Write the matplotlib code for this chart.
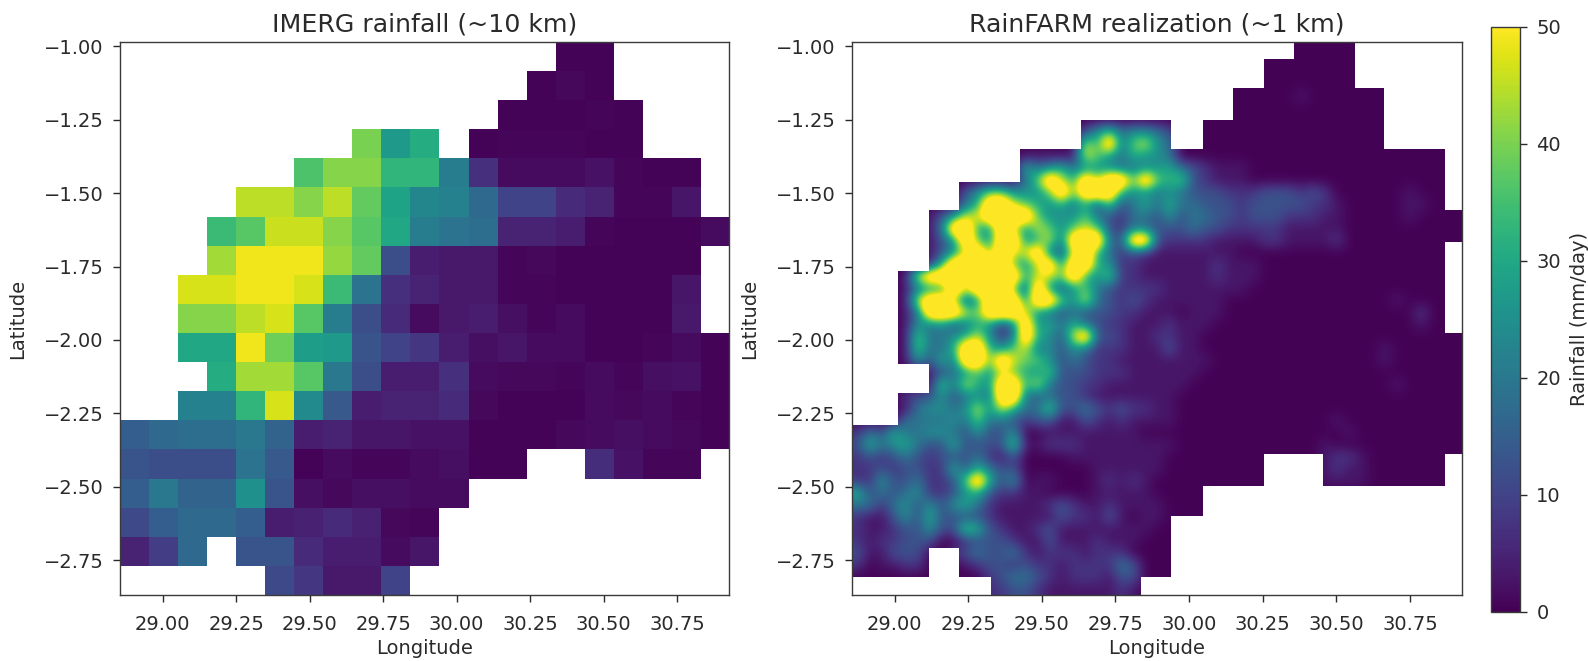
import matplotlib
matplotlib.use('Agg')
import matplotlib.pyplot as plt
import numpy as np

n = np.nan
# IMERG rainfall (mm/day) per ~10 km cell, north to south
imerg_rows = [
    [n,n,n,n,n,n,n,n,n,n,n,n,n,n,n,.5,.5,n,n,n,n],
    [n,n,n,n,n,n,n,n,n,n,n,n,n,n,.5,1,.5,n,n,n,n],
    [n,n,n,n,n,n,n,n,n,n,n,n,n,.5,.5,.5,.8,.5,n,n,n],
    [n,n,n,n,n,n,n,n,40,27,31,n,.5,.8,.8,.8,.5,.5,n,n,n],
    [n,n,n,n,n,n,36,41,41,33,33,21,7,1.5,1.5,1.5,2.5,.8,.5,.5,n],
    [n,n,n,n,45,45,41,45,38,29,23,22,17,10,10,6,5,.8,.8,3,n],
    [n,n,n,34,37,46,46,41,37,30,21,19,18,5,5,4,.8,.5,.5,.5,1.5],
    [n,n,n,43,49,49,49,42,38,12,4,3.5,3.5,.8,1,.5,.5,.5,.5,.5,n],
    [n,n,47,47,49,49,47,34,19,7,5,3.5,3.5,.8,.8,.5,.5,.5,.5,3,n],
    [n,n,41,41,45,47,37,21,12,6,1.5,3.5,4,2,.8,1.5,.5,.5,.5,3.5,n],
    [n,n,30,30,49,39,28,27,13,10,8,4,2,3,1.5,1.5,.5,.5,.8,1.5,.5],
    [n,n,n,31,43,43,37,20,12,4,4,7,1.5,1,1,.8,1.5,.8,2,2.5,.5],
    [n,n,22,22,33,47,24,14,4,5,5,6,1,.5,.5,.5,1.5,1,1.5,.8,.5],
    [15,17,18,18,20,16,4,5,3,3,2.5,2.5,.5,.5,.5,1,1.5,2,1.5,1,.5],
    [13,12,12,12,19,14,.5,1.5,.8,.8,1.5,2,.5,.5,n,n,6.5,2.5,.8,.8,n],
    [15,20,16,16,25,13,2,1,2,2,1.5,1.5,n,n,n,n,n,n,n,n,n],
    [11,15,17,17,15,4,4.5,6,4.5,1,.8,n,n,n,n,n,n,n,n,n,n],
    [5,9,17,n,13,13,6,4,4,1.5,3,n,n,n,n,n,n,n,n,n,n],
    [n,n,n,n,n,11,8,3.5,3.5,10,n,n,n,n,n,n,n,n,n,n,n],
]

rain_levels = [0.3, 3, 7.5, 12.5, 19, 25, 31, 38, 47, 72]
rainfarm_rows = [
    "0",
    "0",
    "0",
    "0",
    "0000000000000000000000000000000000000100000",
    "0",
    "0",
    "0000000000000000000" + "35745543",
    "0000000000000000000" + "86947854",
    "00000000000000" + "11111" + "87546554",
    "00000000000000" + "6456455544556" + "432111",
    "00000000000000" + "4798698997976" + "732111",
    "000000000" + "357755579799965545" + "4333222333232" + "0000001",
    "000000000" + "469987656463734646" + "443332333332210000011",
    "000000" + "135889999755574324435" + "344332333222110000010",
    "000000" + "149965985875787324433" + "34332222211111",
    "000000" + "135975995684999439932" + "22211112211112",
    "000000" + "135897988943896423211" + "11111",
    "000000" + "169999975895996522111" + "1112111",
    "0000" + "18999799996887965722111" + "111211100000000000000000",
    "0000" + "14559899973953574322221" + "111111000000000000000000",
    "0000" + "18998359995997584323211" + "111100000000000000100000",
    "0000" + "14999879998543433322111" + "011100000000000000002000",
    "0000" + "15453465249564643221112" + "111000000000000000001000",
    "0000" + "17445685249653893321122" + "110000000000000000000000",
    "0000" + "17446996578453542221113" + "110000000000000001000000",
    "0000" + "15364997987753432211111" + "111000000000000001000000",
    "000000" + "134575876573332221111" + "110000000000000000000000",
    "000000" + "174865996843322111111" + "100000000000000000100000",
    "0000" + "23353454994343321111111" + "0",
    "0000" + "14554585864473343232211" + "0",
    "0000" + "44445474432331132121111" + "000000000000010000000000",
    "24364455435335" + "0011111111000" + "000000000000001000000000",
    "36456433633337" + "1122211111111" + "000000000000100000000000",
    "23234323334213" + "0000111111110" + "000000000000122100000000",
    "22323322636433" + "0000001111110" + "000000000000121100000000",
    "22533422379635" + "0110001212100" + "000000000000111100000000",
    "63434522356322" + "1100001111100",
    "44245353564211" + "1123211211110",
    "21135363333211" + "1113221310110",
    "21123353376321" + "1231111111100",
    "21223330023332" + "1131112111000",
    "31133300234334" + "2122212220000",
    "20112200012332" + "3221222243000",
    "00000000000234" + "4321222133000",
    "00000000000223" + "3211111121000",
]

# grid cell edges of the right panel, they sit a bit off the left one
right_lon_edges = [28.805, 28.908, 29.011, 29.118, 29.219, 29.326, 29.425, 29.529, 29.633, 29.736, 29.837,
                   29.938, 30.048, 30.148, 30.256, 30.356, 30.455, 30.562, 30.662, 30.766, 30.869, 30.97]
right_lat_edges = [-0.945, -1.044, -1.141, -1.251, -1.351, -1.461, -1.559, -1.667, -1.766, -1.868, -1.976,
                   -2.083, -2.182, -2.291, -2.390, -2.498, -2.599, -2.709, -2.807, -2.91]

lon_ticks = [29.0, 29.25, 29.5, 29.75, 30.0, 30.25, 30.5, 30.75]
lat_ticks = [-1.0, -1.25, -1.5, -1.75, -2.0, -2.25, -2.5, -2.75]
cbar_ticks = [0, 10, 20, 30, 40, 50]

xlim = (28.854, 30.926)
ylim = (-2.869, -0.986)

W, H = 1588, 661
fs = 14
ink = '#2a2a2a'

imerg = np.array(imerg_rows, dtype=float)
rainfarm = np.array([[rain_levels[int(c)] for c in r.ljust(51, '0')] for r in rainfarm_rows])

fig = plt.figure(figsize=(W / 100, H / 100), dpi=100)


def add_axes(x0, x1, y0, y1):
    return fig.add_axes([x0 / W, 1 - y1 / H, (x1 - x0) / W, (y1 - y0) / H])


ax_1 = add_axes(119.6, 729, 42.3, 595)
ax_2 = add_axes(851.6, 1461.8, 42.3, 595)
cax = add_axes(1490.7, 1520, 27, 611.6)

extent = [xlim[0], xlim[1], ylim[0], ylim[1]]
im = ax_1.imshow(imerg, cmap='viridis', vmin=0, vmax=50, extent=extent, aspect='auto', interpolation='nearest')
ax_1.set_title('IMERG rainfall (~10 km)', fontsize=18.2, pad=8, color=ink)

ax_2.imshow(rainfarm, cmap='viridis', vmin=0, vmax=50, extent=extent, aspect='auto', interpolation='bicubic')
# cut the field back to the cells that have data
blank = np.ma.masked_where(~np.isnan(imerg), np.ones(imerg.shape))
ax_2.pcolormesh(right_lon_edges, right_lat_edges, blank, cmap='gray', vmin=0, vmax=1, antialiased=False)
ax_2.set_title('RainFARM realization (~1 km)', fontsize=18.2, pad=8, color=ink)

for ax in (ax_1, ax_2):
    ax.set_xlim(xlim)
    ax.set_ylim(ylim)
    ax.set_xticks(lon_ticks)
    ax.set_xticklabels(['%.2f' % v for v in lon_ticks])
    ax.set_yticks(lat_ticks)
    ax.set_yticklabels(['\u2212%.2f' % abs(v) for v in lat_ticks])
    ax.tick_params(labelsize=fs, length=5.2, width=1.0, pad=6.5, colors=ink)
    ax.tick_params(axis='x', pad=9)
    ax.set_xlabel('Longitude', fontsize=fs, color=ink, labelpad=4)
    ax.set_ylabel('Latitude', fontsize=fs, color=ink, labelpad=11.5)
    for s in ax.spines.values():
        s.set_linewidth(1.0)
        s.set_color('#3a3a3a')

cb = fig.colorbar(im, cax=cax, ticks=cbar_ticks)
cb.set_label('Rainfall (mm/day)', fontsize=fs, color=ink, labelpad=6.5)
cb.ax.tick_params(labelsize=fs, length=5.2, width=1.0, pad=6.5, colors=ink)
cb.outline.set_linewidth(1.0)
cb.outline.set_edgecolor('#3a3a3a')

plt.savefig('out.png', dpi=100)
